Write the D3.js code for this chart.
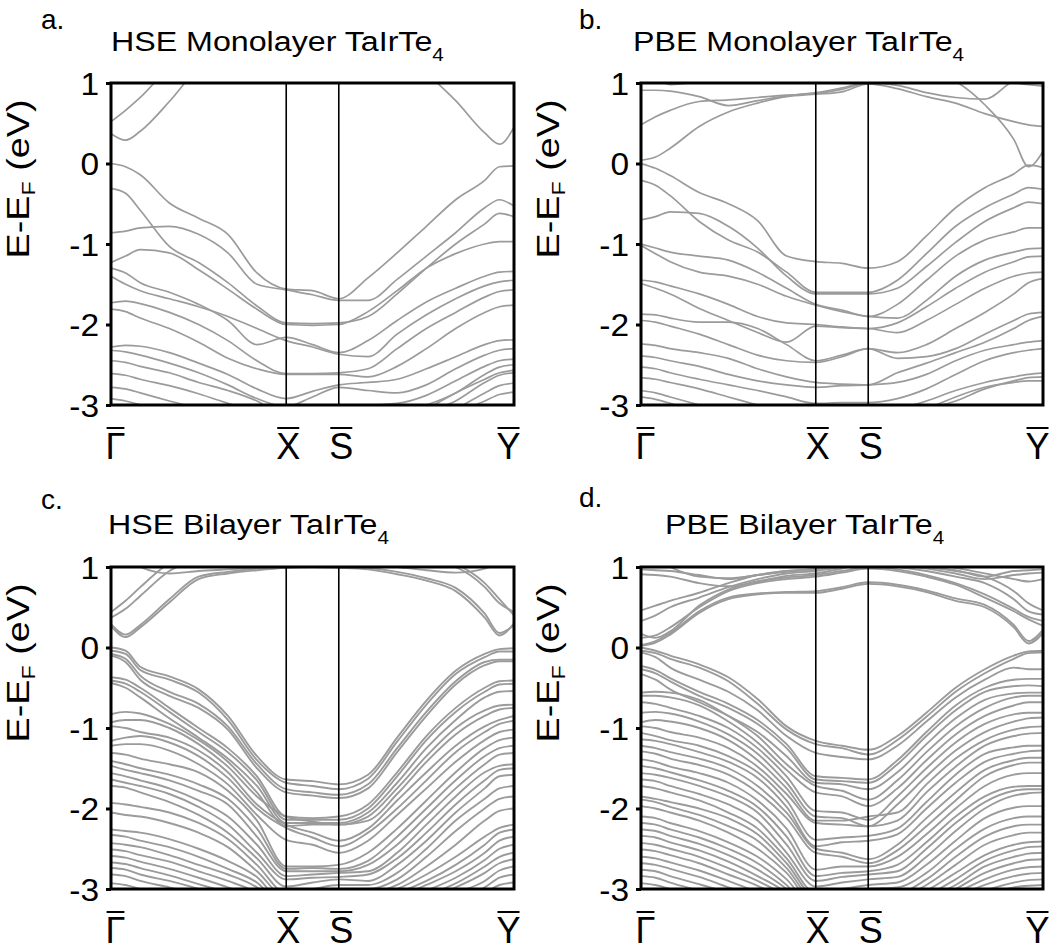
<!DOCTYPE html>
<html><head><meta charset="utf-8">
<script src="https://cdn.jsdelivr.net/npm/d3@7"></script>
<style>
body{margin:0;background:#fff}
svg{display:block}
text{font-family:"Liberation Sans",Arial,Helvetica,sans-serif;fill:#000}
</style></head>
<body><svg id="chart" width="1053" height="951"></svg>
<script>
// ---- k-path ----
const kTicks = [0, 1, 1.3, 2.3];
const kLabels = ["Γ", "X", "S", "Y"];
const kGrid = [0, 0.083, 0.167, 0.333, 0.5, 0.667, 0.833, 1, 1.15, 1.3, 1.467, 1.633, 1.8, 1.967, 2.133, 2.217, 2.3];
const eTicks = [1, 0, -1, -2, -3];
const eDomain = [-3, 1];

const panelLetters = ["a.", "b.", "c.", "d."];
const panelTitles = ["HSE Monolayer TaIrTe", "PBE Monolayer TaIrTe", "HSE Bilayer TaIrTe", "PBE Bilayer TaIrTe"];
const titleSubscript = "4";

// ---- a. HSE monolayer ----
const bandsHSEMono = [
 [0.37,0.29,0.40,0.77,1.2,1.5,1.6,1.6,1.6,1.6,1.5,1.4,1.12,0.78,0.38,0.24,0.45],
 [0.52,0.66,0.82,1.2,1.5,1.7,1.8,1.8,1.8,1.8,1.8,1.7,1.6,1.5,1.4,1.3,1.25],
 [0.00,-0.04,-0.14,-0.49,-0.68,-0.88,-1.36,-1.56,-1.58,-1.68,-1.42,-1.11,-0.78,-0.45,-0.21,-0.04,-0.03],
 [-0.31,-0.37,-0.58,-1.03,-1.23,-1.48,-1.77,-1.98,-1.99,-1.98,-1.90,-1.62,-1.30,-1.00,-0.75,-0.62,-0.66],
 [-0.86,-0.84,-0.80,-0.78,-0.88,-1.11,-1.50,-1.57,-1.63,-1.70,-1.70,-1.44,-1.15,-0.86,-0.55,-0.45,-0.53],
 [-1.23,-1.15,-1.07,-1.11,-1.32,-1.56,-1.81,-2.00,-2.01,-2.00,-1.84,-1.58,-1.30,-1.12,-1.00,-0.97,-0.97],
 [-1.30,-1.36,-1.48,-1.60,-1.75,-1.95,-2.25,-2.16,-2.25,-2.35,-2.20,-1.95,-1.72,-1.55,-1.40,-1.35,-1.34],
 [-1.40,-1.50,-1.58,-1.68,-1.78,-1.90,-2.05,-2.20,-2.28,-2.37,-2.40,-2.12,-1.88,-1.68,-1.52,-1.47,-1.45],
 [-1.73,-1.71,-1.74,-1.85,-2.00,-2.20,-2.45,-2.61,-2.61,-2.60,-2.55,-2.30,-2.05,-1.85,-1.66,-1.59,-1.57],
 [-1.81,-1.84,-1.92,-2.05,-2.22,-2.42,-2.55,-2.62,-2.62,-2.62,-2.65,-2.52,-2.30,-2.05,-1.85,-1.78,-1.76],
 [-2.28,-2.26,-2.27,-2.35,-2.48,-2.62,-2.80,-2.92,-2.83,-2.75,-2.72,-2.68,-2.55,-2.40,-2.25,-2.20,-2.19],
 [-2.32,-2.34,-2.38,-2.48,-2.60,-2.75,-2.92,-3.02,-2.90,-2.78,-2.82,-2.85,-2.75,-2.55,-2.38,-2.32,-2.30],
 [-2.45,-2.47,-2.52,-2.60,-2.72,-2.82,-2.95,-3.15,-3.10,-3.00,-3.00,-2.98,-2.88,-2.70,-2.52,-2.45,-2.43],
 [-2.61,-2.63,-2.68,-2.76,-2.86,-2.98,-3.10,-3.30,-3.20,-3.10,-3.10,-3.10,-3.00,-2.85,-2.62,-2.53,-2.50],
 [-2.78,-2.80,-2.85,-2.95,-3.05,-3.20,-3.30,-3.40,-3.40,-3.40,-3.30,-3.20,-3.05,-2.85,-2.68,-2.60,-2.57],
 [-2.92,-2.95,-3.00,-3.10,-3.20,-3.30,-3.40,-3.50,-3.50,-3.50,-3.40,-3.30,-3.10,-2.95,-2.72,-2.63,-2.60],
 [-3.10,-3.12,-3.15,-3.25,-3.35,-3.45,-3.50,-3.60,-3.60,-3.60,-3.50,-3.40,-3.20,-3.05,-2.85,-2.76,-2.73],
 [-3.30,-3.30,-3.35,-3.40,-3.50,-3.60,-3.60,-3.70,-3.70,-3.70,-3.60,-3.50,-3.30,-3.10,-2.95,-2.87,-2.84]
];

// ---- b. PBE monolayer ----
const bandsPBEMono = [
 [0.04,0.08,0.19,0.46,0.64,0.75,0.83,0.86,0.89,0.99,0.93,0.83,0.75,0.62,0.52,0.48,0.46],
 [0.48,0.58,0.66,0.77,0.79,0.82,0.85,0.87,0.92,1.00,0.97,0.88,0.82,0.80,1.03,1.10,1.20],
 [0.91,0.91,0.90,0.83,0.72,0.78,0.84,0.88,0.94,1.01,1.03,1.05,1.10,1.05,1.00,0.98,0.96],
 [1.30,1.30,1.30,1.30,1.30,1.30,1.30,1.30,1.30,1.30,1.25,1.15,1.02,0.73,0.30,-0.04,0.15],
 [1.10,1.05,0.98,1.02,1.10,1.20,1.20,1.20,1.20,1.20,1.20,1.20,1.20,1.20,1.20,1.20,1.20],
 [0.00,-0.06,-0.15,-0.36,-0.50,-0.71,-1.15,-1.22,-1.24,-1.30,-1.22,-0.90,-0.55,-0.30,-0.13,-0.02,-0.05],
 [-0.21,-0.27,-0.40,-0.72,-0.95,-1.10,-1.35,-1.60,-1.60,-1.60,-1.45,-1.12,-0.78,-0.55,-0.38,-0.30,-0.32],
 [-0.70,-0.66,-0.60,-0.62,-0.78,-1.05,-1.40,-1.62,-1.62,-1.62,-1.55,-1.28,-0.98,-0.72,-0.55,-0.48,-0.50],
 [-1.00,-1.05,-1.10,-1.15,-1.20,-1.35,-1.55,-1.75,-1.82,-1.90,-1.75,-1.45,-1.15,-0.95,-0.85,-0.80,-0.80],
 [-1.02,-1.12,-1.22,-1.35,-1.40,-1.50,-1.65,-1.76,-1.84,-1.90,-1.92,-1.70,-1.40,-1.20,-1.10,-1.06,-1.05],
 [-1.45,-1.47,-1.52,-1.62,-1.75,-1.90,-1.98,-2.00,-2.03,-2.05,-1.98,-1.78,-1.55,-1.35,-1.22,-1.16,-1.15],
 [-1.49,-1.55,-1.62,-1.80,-1.95,-2.10,-2.22,-2.02,-2.04,-2.05,-2.10,-1.95,-1.75,-1.55,-1.40,-1.36,-1.35],
 [-1.87,-1.88,-1.92,-1.97,-1.97,-2.05,-2.25,-2.45,-2.38,-2.30,-2.35,-2.25,-2.05,-1.85,-1.62,-1.48,-1.43],
 [-1.95,-1.97,-2.02,-2.12,-2.25,-2.38,-2.45,-2.47,-2.40,-2.30,-2.42,-2.40,-2.30,-2.12,-1.95,-1.87,-1.85],
 [-2.24,-2.26,-2.30,-2.35,-2.42,-2.55,-2.65,-2.72,-2.74,-2.75,-2.60,-2.48,-2.35,-2.22,-2.05,-1.95,-1.90],
 [-2.39,-2.41,-2.45,-2.52,-2.62,-2.70,-2.75,-2.78,-2.76,-2.75,-2.72,-2.62,-2.45,-2.32,-2.25,-2.22,-2.20],
 [-2.53,-2.55,-2.60,-2.68,-2.75,-2.82,-2.90,-2.98,-2.97,-2.97,-2.92,-2.80,-2.62,-2.45,-2.35,-2.32,-2.30],
 [-2.66,-2.68,-2.72,-2.80,-2.90,-3.00,-3.10,-3.10,-3.10,-3.10,-3.05,-2.95,-2.82,-2.72,-2.65,-2.62,-2.60],
 [-2.82,-2.85,-2.90,-3.00,-3.10,-3.20,-3.20,-3.20,-3.20,-3.20,-3.15,-3.05,-2.95,-2.80,-2.70,-2.66,-2.65],
 [-2.90,-2.93,-2.98,-3.10,-3.20,-3.20,-3.20,-3.20,-3.20,-3.20,-3.20,-3.05,-2.90,-2.78,-2.72,-2.70,-2.70]
];

// ---- c. HSE bilayer ----
const bandsHSEBi = [
 [0.27,0.13,0.25,0.56,0.85,0.92,0.96,0.99,1.00,0.99,0.97,0.91,0.83,0.70,0.37,0.15,0.30],
 [0.29,0.16,0.28,0.60,0.88,0.94,0.98,1.01,1.02,1.01,0.99,0.94,0.86,0.74,0.42,0.18,0.28],
 [0.37,0.48,0.64,0.95,1.10,1.20,1.20,1.20,1.20,1.20,1.20,1.15,1.08,1.00,0.75,0.55,0.44],
 [0.44,0.58,0.75,1.05,1.20,1.30,1.30,1.30,1.30,1.30,1.30,1.25,1.15,1.04,0.80,0.60,0.40],
 [1.20,1.10,1.00,0.92,0.95,0.97,0.99,1.00,1.02,1.04,1.03,1.00,0.96,0.93,0.98,1.05,1.10],
 [0.00,-0.04,-0.24,-0.36,-0.52,-0.85,-1.35,-1.64,-1.66,-1.70,-1.58,-1.12,-0.66,-0.29,-0.08,-0.02,-0.01],
 [-0.04,-0.08,-0.28,-0.40,-0.56,-0.90,-1.40,-1.68,-1.72,-1.76,-1.63,-1.17,-0.71,-0.33,-0.12,-0.05,-0.05],
 [-0.08,-0.14,-0.35,-0.55,-0.70,-0.98,-1.45,-1.76,-1.80,-1.83,-1.70,-1.25,-0.80,-0.42,-0.18,-0.15,-0.15],
 [-0.10,-0.18,-0.40,-0.60,-0.75,-1.02,-1.50,-1.80,-1.84,-1.87,-1.75,-1.30,-0.85,-0.46,-0.22,-0.17,-0.17],
 [-0.37,-0.40,-0.50,-0.75,-1.00,-1.25,-1.60,-2.10,-2.12,-2.10,-1.95,-1.55,-1.10,-0.75,-0.50,-0.42,-0.41],
 [-0.41,-0.45,-0.55,-0.80,-1.05,-1.30,-1.65,-2.14,-2.14,-2.14,-2.00,-1.60,-1.15,-0.80,-0.55,-0.46,-0.45],
 [-0.44,-0.50,-0.62,-0.88,-1.12,-1.38,-1.72,-2.18,-2.18,-2.18,-2.05,-1.68,-1.25,-0.90,-0.62,-0.55,-0.54],
 [-0.83,-0.80,-0.82,-0.95,-1.15,-1.42,-1.80,-2.22,-2.20,-2.20,-2.10,-1.75,-1.35,-1.00,-0.78,-0.72,-0.71],
 [-0.93,-0.90,-0.90,-1.00,-1.20,-1.48,-1.85,-2.10,-2.16,-2.20,-2.15,-1.82,-1.42,-1.08,-0.85,-0.77,-0.75],
 [-0.98,-1.00,-1.05,-1.12,-1.28,-1.55,-1.95,-2.20,-2.30,-2.40,-2.25,-1.90,-1.55,-1.22,-0.98,-0.90,-0.85],
 [-1.16,-1.12,-1.10,-1.18,-1.35,-1.62,-2.00,-2.24,-2.36,-2.47,-2.30,-2.00,-1.65,-1.30,-1.05,-0.95,-0.91],
 [-1.22,-1.20,-1.20,-1.28,-1.45,-1.70,-2.08,-2.39,-2.45,-2.55,-2.40,-2.08,-1.75,-1.42,-1.15,-1.05,-1.02],
 [-1.31,-1.33,-1.38,-1.45,-1.55,-1.78,-2.15,-2.72,-2.72,-2.70,-2.55,-2.25,-1.90,-1.55,-1.25,-1.15,-1.12],
 [-1.41,-1.45,-1.50,-1.58,-1.70,-1.88,-2.25,-2.75,-2.74,-2.75,-2.65,-2.35,-2.00,-1.65,-1.35,-1.25,-1.22],
 [-1.47,-1.52,-1.56,-1.65,-1.78,-1.95,-2.35,-2.78,-2.78,-2.78,-2.70,-2.45,-2.10,-1.75,-1.45,-1.33,-1.31],
 [-1.56,-1.60,-1.65,-1.75,-1.90,-2.10,-2.45,-2.84,-2.82,-2.80,-2.78,-2.55,-2.20,-1.85,-1.55,-1.47,-1.45],
 [-1.64,-1.68,-1.72,-1.82,-1.98,-2.20,-2.55,-2.88,-2.86,-2.85,-2.82,-2.62,-2.30,-1.95,-1.65,-1.52,-1.50],
 [-1.72,-1.74,-1.80,-1.92,-2.08,-2.30,-2.62,-2.97,-2.92,-2.88,-2.90,-2.70,-2.40,-2.05,-1.75,-1.60,-1.58],
 [-1.93,-1.95,-1.98,-2.05,-2.18,-2.38,-2.70,-3.05,-3.00,-2.95,-2.95,-2.80,-2.50,-2.15,-1.88,-1.75,-1.72],
 [-2.05,-2.08,-2.10,-2.18,-2.30,-2.48,-2.78,-3.10,-3.05,-3.00,-3.00,-2.88,-2.60,-2.28,-2.00,-1.88,-1.85],
 [-2.26,-2.28,-2.30,-2.38,-2.50,-2.65,-2.85,-3.20,-3.10,-3.05,-3.05,-2.95,-2.72,-2.45,-2.15,-2.03,-2.00],
 [-2.33,-2.35,-2.40,-2.48,-2.60,-2.75,-2.92,-3.25,-3.20,-3.10,-3.10,-3.00,-2.82,-2.60,-2.35,-2.24,-2.20],
 [-2.43,-2.45,-2.48,-2.58,-2.70,-2.82,-2.98,-3.30,-3.25,-3.20,-3.15,-3.05,-2.90,-2.70,-2.45,-2.30,-2.26],
 [-2.51,-2.53,-2.58,-2.66,-2.78,-2.90,-3.05,-3.35,-3.30,-3.25,-3.20,-3.10,-2.95,-2.78,-2.55,-2.40,-2.35],
 [-2.59,-2.61,-2.66,-2.75,-2.86,-2.98,-3.12,-3.40,-3.35,-3.30,-3.25,-3.15,-3.02,-2.86,-2.64,-2.50,-2.45],
 [-2.67,-2.69,-2.74,-2.83,-2.94,-3.05,-3.20,-3.45,-3.40,-3.35,-3.30,-3.20,-3.08,-2.93,-2.72,-2.60,-2.55],
 [-2.74,-2.76,-2.82,-2.90,-3.00,-3.12,-3.25,-3.50,-3.45,-3.40,-3.35,-3.25,-3.12,-2.98,-2.80,-2.68,-2.63],
 [-2.82,-2.84,-2.90,-2.98,-3.08,-3.20,-3.30,-3.50,-3.50,-3.45,-3.40,-3.30,-3.18,-3.05,-2.90,-2.77,-2.72],
 [-2.93,-2.95,-3.00,-3.08,-3.18,-3.30,-3.40,-3.60,-3.55,-3.50,-3.45,-3.35,-3.25,-3.12,-2.98,-2.86,-2.82],
 [-3.05,-3.07,-3.12,-3.20,-3.30,-3.40,-3.50,-3.60,-3.60,-3.55,-3.50,-3.40,-3.30,-3.20,-3.05,-2.95,-2.92]
];

// ---- d. PBE bilayer ----
const bandsPBEBi = [
 [0.02,0.06,0.16,0.43,0.60,0.66,0.68,0.68,0.73,0.79,0.76,0.69,0.58,0.50,0.25,0.05,0.18],
 [0.03,0.08,0.18,0.45,0.62,0.67,0.69,0.70,0.75,0.81,0.78,0.71,0.61,0.53,0.28,0.08,0.22],
 [0.12,0.15,0.25,0.50,0.70,0.80,0.85,0.88,0.93,0.98,0.95,0.88,0.78,0.62,0.45,0.35,0.27],
 [0.17,0.12,0.20,0.52,0.72,0.82,0.87,0.90,0.95,1.00,0.97,0.90,0.80,0.66,0.48,0.38,0.33],
 [0.33,0.40,0.50,0.62,0.75,0.85,0.92,0.95,1.00,1.05,1.00,0.95,0.88,0.80,0.60,0.45,0.41],
 [0.46,0.52,0.58,0.68,0.80,0.90,0.95,0.97,1.02,1.08,1.05,1.00,0.95,0.88,0.70,0.55,0.46],
 [0.91,0.90,0.88,0.80,0.76,0.82,0.89,0.92,0.98,1.05,1.02,0.98,0.92,0.85,0.90,0.92,0.93],
 [0.97,0.96,0.95,0.90,0.85,0.90,0.94,0.97,1.05,1.10,1.08,1.00,0.96,0.88,0.95,0.96,0.97],
 [1.20,1.10,1.00,0.88,0.86,0.90,0.95,0.98,1.10,1.20,1.15,1.05,0.99,0.92,0.85,0.82,0.85],
 [0.00,-0.04,-0.10,-0.21,-0.37,-0.64,-0.98,-1.16,-1.22,-1.27,-1.10,-0.81,-0.50,-0.27,-0.10,-0.05,-0.04],
 [-0.04,-0.07,-0.14,-0.25,-0.42,-0.70,-1.02,-1.20,-1.25,-1.33,-1.15,-0.86,-0.55,-0.32,-0.14,-0.07,-0.06],
 [-0.06,-0.12,-0.25,-0.40,-0.55,-0.78,-1.10,-1.31,-1.36,-1.39,-1.22,-0.92,-0.62,-0.40,-0.25,-0.27,-0.27],
 [-0.23,-0.28,-0.38,-0.55,-0.70,-0.90,-1.20,-1.60,-1.62,-1.64,-1.40,-1.05,-0.72,-0.50,-0.40,-0.39,-0.39],
 [-0.27,-0.32,-0.42,-0.60,-0.75,-0.95,-1.25,-1.64,-1.66,-1.68,-1.45,-1.10,-0.78,-0.55,-0.48,-0.47,-0.48],
 [-0.33,-0.40,-0.52,-0.68,-0.85,-1.05,-1.35,-1.68,-1.70,-1.76,-1.55,-1.20,-0.88,-0.65,-0.57,-0.56,-0.56],
 [-0.56,-0.55,-0.56,-0.65,-0.85,-1.10,-1.45,-1.72,-1.78,-1.89,-1.65,-1.30,-0.98,-0.75,-0.62,-0.60,-0.60],
 [-0.60,-0.60,-0.62,-0.72,-0.92,-1.18,-1.52,-1.80,-1.85,-1.97,-1.75,-1.40,-1.08,-0.85,-0.72,-0.68,-0.68],
 [-0.68,-0.70,-0.75,-0.85,-1.00,-1.25,-1.60,-2.03,-2.05,-2.14,-1.85,-1.50,-1.18,-0.95,-0.83,-0.81,-0.81],
 [-0.81,-0.80,-0.82,-0.92,-1.08,-1.32,-1.68,-2.10,-2.12,-2.22,-1.95,-1.60,-1.28,-1.05,-0.92,-0.88,-0.87],
 [-0.93,-0.90,-0.92,-1.00,-1.15,-1.40,-1.75,-2.15,-2.15,-2.10,-2.05,-1.70,-1.38,-1.15,-1.02,-0.99,-0.98],
 [-0.98,-1.00,-1.05,-1.12,-1.25,-1.48,-1.82,-2.18,-2.20,-2.22,-2.15,-1.80,-1.48,-1.22,-1.10,-1.07,-1.06],
 [-1.06,-1.10,-1.15,-1.22,-1.35,-1.55,-1.90,-2.39,-2.36,-2.34,-2.25,-1.92,-1.58,-1.32,-1.24,-1.22,-1.22],
 [-1.14,-1.16,-1.20,-1.30,-1.42,-1.62,-1.98,-2.47,-2.42,-2.40,-2.32,-2.00,-1.68,-1.42,-1.32,-1.29,-1.28],
 [-1.22,-1.25,-1.30,-1.38,-1.50,-1.72,-2.05,-2.50,-2.55,-2.63,-2.45,-2.12,-1.80,-1.52,-1.40,-1.37,-1.37],
 [-1.29,-1.32,-1.38,-1.46,-1.58,-1.80,-2.12,-2.55,-2.60,-2.68,-2.52,-2.22,-1.90,-1.60,-1.46,-1.43,-1.43],
 [-1.39,-1.42,-1.48,-1.56,-1.68,-1.90,-2.25,-2.76,-2.72,-2.72,-2.60,-2.32,-2.00,-1.72,-1.58,-1.56,-1.56],
 [-1.47,-1.50,-1.55,-1.65,-1.78,-1.98,-2.35,-2.84,-2.80,-2.78,-2.70,-2.42,-2.10,-1.85,-1.73,-1.72,-1.72],
 [-1.56,-1.58,-1.62,-1.72,-1.85,-2.05,-2.45,-2.90,-2.85,-2.82,-2.78,-2.50,-2.18,-1.92,-1.78,-1.76,-1.76],
 [-1.64,-1.66,-1.72,-1.82,-1.95,-2.15,-2.55,-2.97,-2.92,-2.88,-2.85,-2.60,-2.28,-2.00,-1.84,-1.81,-1.80],
 [-1.72,-1.75,-1.80,-1.90,-2.05,-2.25,-2.62,-3.05,-3.00,-2.95,-2.92,-2.70,-2.40,-2.12,-1.99,-1.97,-1.97],
 [-1.85,-1.88,-1.92,-2.00,-2.12,-2.32,-2.68,-3.10,-3.05,-3.00,-2.98,-2.80,-2.50,-2.25,-2.12,-2.10,-2.10],
 [-1.89,-1.92,-1.98,-2.08,-2.22,-2.40,-2.74,-3.15,-3.10,-3.05,-3.05,-2.88,-2.60,-2.35,-2.22,-2.20,-2.20],
 [-1.97,-2.00,-2.05,-2.15,-2.30,-2.50,-2.80,-3.20,-3.15,-3.10,-3.10,-2.95,-2.70,-2.45,-2.33,-2.30,-2.30],
 [-2.10,-2.12,-2.18,-2.28,-2.42,-2.60,-2.88,-3.25,-3.20,-3.15,-3.15,-3.02,-2.80,-2.58,-2.45,-2.42,-2.41],
 [-2.18,-2.20,-2.26,-2.36,-2.50,-2.68,-2.95,-3.30,-3.25,-3.20,-3.20,-3.08,-2.88,-2.65,-2.52,-2.48,-2.47],
 [-2.26,-2.28,-2.34,-2.44,-2.58,-2.76,-3.00,-3.35,-3.30,-3.25,-3.25,-3.12,-2.95,-2.72,-2.60,-2.56,-2.55],
 [-2.34,-2.36,-2.42,-2.52,-2.66,-2.84,-3.05,-3.40,-3.35,-3.30,-3.30,-3.18,-3.00,-2.80,-2.68,-2.64,-2.63],
 [-2.43,-2.45,-2.50,-2.60,-2.74,-2.90,-3.10,-3.45,-3.40,-3.35,-3.35,-3.22,-3.05,-2.88,-2.76,-2.73,-2.72],
 [-2.51,-2.53,-2.58,-2.68,-2.82,-2.96,-3.15,-3.50,-3.45,-3.40,-3.40,-3.28,-3.10,-2.95,-2.84,-2.81,-2.80],
 [-2.60,-2.62,-2.67,-2.77,-2.90,-3.04,-3.20,-3.50,-3.50,-3.45,-3.45,-3.32,-3.15,-3.02,-2.92,-2.89,-2.88],
 [-2.68,-2.70,-2.75,-2.85,-2.98,-3.10,-3.25,-3.55,-3.50,-3.50,-3.50,-3.38,-3.20,-3.08,-2.98,-2.96,-2.95],
 [-2.76,-2.78,-2.84,-2.94,-3.05,-3.18,-3.30,-3.60,-3.55,-3.55,-3.55,-3.42,-3.25,-3.12,-3.05,-3.02,-3.02],
 [-2.84,-2.86,-2.92,-3.02,-3.12,-3.25,-3.35,-3.60,-3.60,-3.60,-3.60,-3.48,-3.30,-3.18,-3.10,-3.08,-3.08],
 [-2.93,-2.95,-3.00,-3.10,-3.20,-3.30,-3.40,-3.65,-3.65,-3.65,-3.65,-3.52,-3.35,-3.25,-3.15,-3.12,-3.12]
];

const panelBands = [bandsHSEMono, bandsPBEMono, bandsHSEBi, bandsPBEBi];

// ---- layout (pixels) ----
const layout = [
 {x0:111, x1:514, y0:83,  y1:405, lx:41,  ly:29,  tx:111, ty:51,  ax:29,    ay:179},
 {x0:641, x1:1043,y0:83,  y1:405, lx:579, ly:29,  tx:633, ty:51,  ax:559,   ay:179},
 {x0:111, x1:514, y0:567, y1:889, lx:41,  ly:509, tx:108, ty:534, ax:29,    ay:663},
 {x0:641, x1:1043,y0:567, y1:889, lx:579, ly:507, tx:665, ty:534, ax:559,   ay:663}
];
const bandColor = "#9b9b9b";
const SX_TICK = 1.08;
const SX_TITLE = 1.15;

const svg = d3.select("#chart");
const defs = svg.append("defs");

panelBands.forEach((bands, i) => {
  const L = layout[i];
  const x = d3.scaleLinear().domain([kTicks[0], kTicks[kTicks.length-1]]).range([L.x0, L.x1]);
  const y = d3.scaleLinear().domain(eDomain).range([L.y1, L.y0]);
  defs.append("clipPath").attr("id", "clip" + i)
    .append("rect").attr("x", L.x0).attr("y", L.y0).attr("width", L.x1 - L.x0).attr("height", L.y1 - L.y0);

  const g = svg.append("g");
  const line = d3.line().x((d, j) => x(kGrid[j])).y(d => y(d)).curve(d3.curveMonotoneX);

  g.append("g").attr("clip-path", `url(#clip${i})`)
    .selectAll("path").data(bands).join("path")
    .attr("d", line).attr("fill", "none")
    .attr("stroke", bandColor).attr("stroke-width", i < 2 ? 1.7 : 1.9);

  // symmetry lines X, S
  g.selectAll("line.sym").data(kTicks.slice(1, 3)).join("line")
    .attr("class", "sym")
    .attr("x1", d => x(d)).attr("x2", d => x(d))
    .attr("y1", L.y0).attr("y2", L.y1)
    .attr("stroke", "#000").attr("stroke-width", 1.6);

  // frame
  g.append("rect").attr("x", L.x0).attr("y", L.y0)
    .attr("width", L.x1 - L.x0).attr("height", L.y1 - L.y0)
    .attr("fill", "none").attr("stroke", "#000").attr("stroke-width", 3);

  // y axis
  const ya = g.append("g").attr("transform", `translate(${L.x0},0)`)
    .call(d3.axisLeft(y).tickValues(eTicks).tickSize(5).tickFormat(d => String(d)));
  ya.attr("font-family", null).attr("font-size", null);
  ya.select(".domain").remove();
  ya.selectAll(".tick line").attr("stroke", "#000").attr("stroke-width", 3);
  ya.selectAll(".tick text")
    .attr("x", null).attr("dy", null)
    .attr("text-anchor", "end")
    .attr("font-size", 31)
    .attr("transform", `translate(-12,11) scale(${SX_TICK},1)`);

  // x axis labels with overbars
  const xa = g.append("g").attr("transform", `translate(0,${L.y1})`)
    .call(d3.axisBottom(x).tickValues(kTicks).tickSize(0).tickFormat((d, j) => kLabels[j]));
  xa.attr("font-family", null).attr("font-size", null);
  xa.select(".domain").remove();
  const xShift = [4, 1.5, 2, -6];
  xa.selectAll(".tick text")
    .attr("y", null).attr("dy", null)
    .attr("font-size", 36)
    .attr("text-anchor", "middle")
    .attr("transform", (d, j) => `translate(${xShift[j]},54)`);
  xa.selectAll(".tick").each(function() {
    const t = d3.select(this).select("text");
    const bb = t.node().getBBox();
    const tr = t.attr("transform");
    d3.select(this).append("line")
      .attr("transform", tr)
      .attr("x1", bb.x + 1).attr("x2", bb.x + bb.width - 1)
      .attr("y1", -31).attr("y2", -31)
      .attr("stroke", "#000").attr("stroke-width", 2);
  });

  // panel letter
  svg.append("text").attr("transform", `translate(${L.lx},${L.ly})`)
    .attr("font-size", 28).text(panelLetters[i]);

  // title with subscript
  const tt = svg.append("text").attr("transform", `translate(${L.tx},${L.ty}) scale(${SX_TITLE},1)`)
    .attr("font-size", 28);
  tt.append("tspan").text(panelTitles[i]);
  tt.append("tspan").attr("font-size", 18).attr("dy", 10).text(titleSubscript);

  // y axis title
  const at = svg.append("text")
    .attr("transform", `translate(${L.ax},${L.ay}) rotate(-90) scale(1.22,1)`)
    .attr("text-anchor", "middle").attr("font-size", 31);
  at.append("tspan").text("E-E");
  at.append("tspan").attr("font-size", 19).attr("dy", 6).text("F");
  at.append("tspan").attr("dy", -6).text(" (eV)");
});
</script>
</body></html>
